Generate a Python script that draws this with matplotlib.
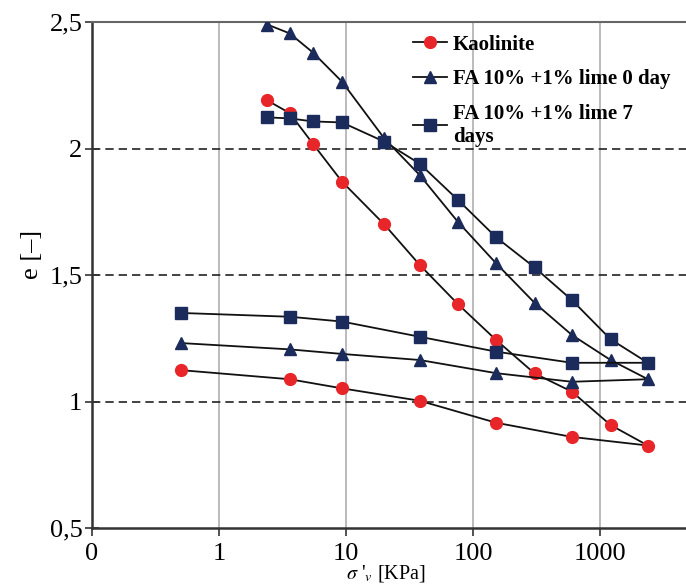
import numpy as np
import matplotlib.pyplot as plt
from matplotlib.ticker import FixedLocator, FixedFormatter, NullLocator

plt.rcParams['font.family'] = ['Liberation Serif', 'DejaVu Serif']
plt.rcParams['mathtext.fontset'] = 'stix'

# Contrainte verticale effective (kPa): chargement puis déchargement
sig_load = [2.4, 3.6, 5.5, 9.3, 20, 38, 76, 152, 305, 600, 1210, 2380]
sig_unload = [600, 152, 38, 9.3, 3.6, 0.5]

# Indice des vides e
e_kaol_load = [2.19, 2.14, 2.018, 1.869, 1.70, 1.54, 1.385, 1.243, 1.111, 1.039, 0.907, 0.826]
e_kaol_unload = [0.86, 0.916, 1.003, 1.052, 1.088, 1.124]

e_fa0_load = [2.49, 2.455, 2.379, 2.264, 2.04, 1.895, 1.71, 1.546, 1.39, 1.263, 1.164, 1.088]
e_fa0_unload = [1.078, 1.112, 1.164, 1.188, 1.206, 1.231]

e_fa7_load = [2.123, 2.119, 2.107, 2.103, 2.027, 1.94, 1.797, 1.649, 1.530, 1.401, 1.246, 1.153]
e_fa7_unload = [1.153, 1.197, 1.256, 1.316, 1.335, 1.35]

labels = ['Kaolinite', 'FA 10% +1% lime 0 day', 'FA 10% +1% lime 7\ndays']

xticks = [0.1, 1, 10, 100, 1000]
xtick_labels = ['0', '1', '10', '100', '1000']
yticks = [0.5, 1, 1.5, 2, 2.5]
ytick_labels = ['0,5', '1', '1,5', '2', '2,5']

red = '#e8262a'
navy = '#1b2b5c'

fig = plt.figure(figsize=(6.86, 5.86), dpi=100)
ax = fig.add_axes([92/686, 58/586, 594/686, 506/586])

series = [
    (e_kaol_load, e_kaol_unload, 'o', red, 8.5),
    (e_fa0_load, e_fa0_unload, '^', navy, 8.5),
    (e_fa7_load, e_fa7_unload, 's', navy, 8.5),
]
for (ld, ul, m, c, ms), lab in zip(series, labels):
    x = list(sig_load) + list(sig_unload)
    y = list(ld) + list(ul)
    ax.plot(x, y, color='#111111', lw=1.3, marker=m, markersize=ms,
            markerfacecolor=c, markeredgecolor=c, label=lab, zorder=3)

ax.set_xscale('log')
ax.set_xlim(0.1, 4750)
ax.set_ylim(0.5, 2.5)

ax.xaxis.set_major_locator(FixedLocator(xticks))
ax.xaxis.set_major_formatter(FixedFormatter(xtick_labels))
ax.xaxis.set_minor_locator(NullLocator())
ax.set_yticks(yticks)
ax.set_yticklabels(ytick_labels)

ax.tick_params(axis='x', direction='out', length=6, width=1.2, labelsize=19, pad=5, color='#333333')
ax.tick_params(axis='y', direction='inout', length=10, width=1.2, labelsize=19, pad=2, color='#333333')

# grille verticale grise, lignes horizontales en pointillés
for xv in [1, 10, 100, 1000]:
    ax.axvline(xv, color='#bbbbbb', lw=1.4, zorder=1)
for yv in [1, 1.5, 2]:
    ax.axhline(yv, color='#222222', lw=1.2, ls=(0, (5, 3)), zorder=1)

ax.spines['right'].set_visible(False)
ax.spines['top'].set_color('#666666')
ax.spines['top'].set_linewidth(1.5)
ax.spines['left'].set_color('#333333')
ax.spines['left'].set_linewidth(1.8)
ax.spines['bottom'].set_color('#333333')
ax.spines['bottom'].set_linewidth(1.8)

ax.set_ylabel('e [–]', fontsize=19)
ax.yaxis.set_label_coords(-0.083, 0.54)
ax.set_xlabel(r"$\sigma$ '$_v$ [KPa]", fontsize=14.5)
ax.xaxis.set_label_coords(0.495, -0.07)

leg = ax.legend(loc='upper left', bbox_to_anchor=(0.52, 1.0), frameon=False,
                prop={'weight': 'bold', 'size': 15}, handlelength=1.6,
                handletextpad=0.3, labelspacing=0.7, borderaxespad=0.2)

fig.savefig('out.png', dpi=100)
